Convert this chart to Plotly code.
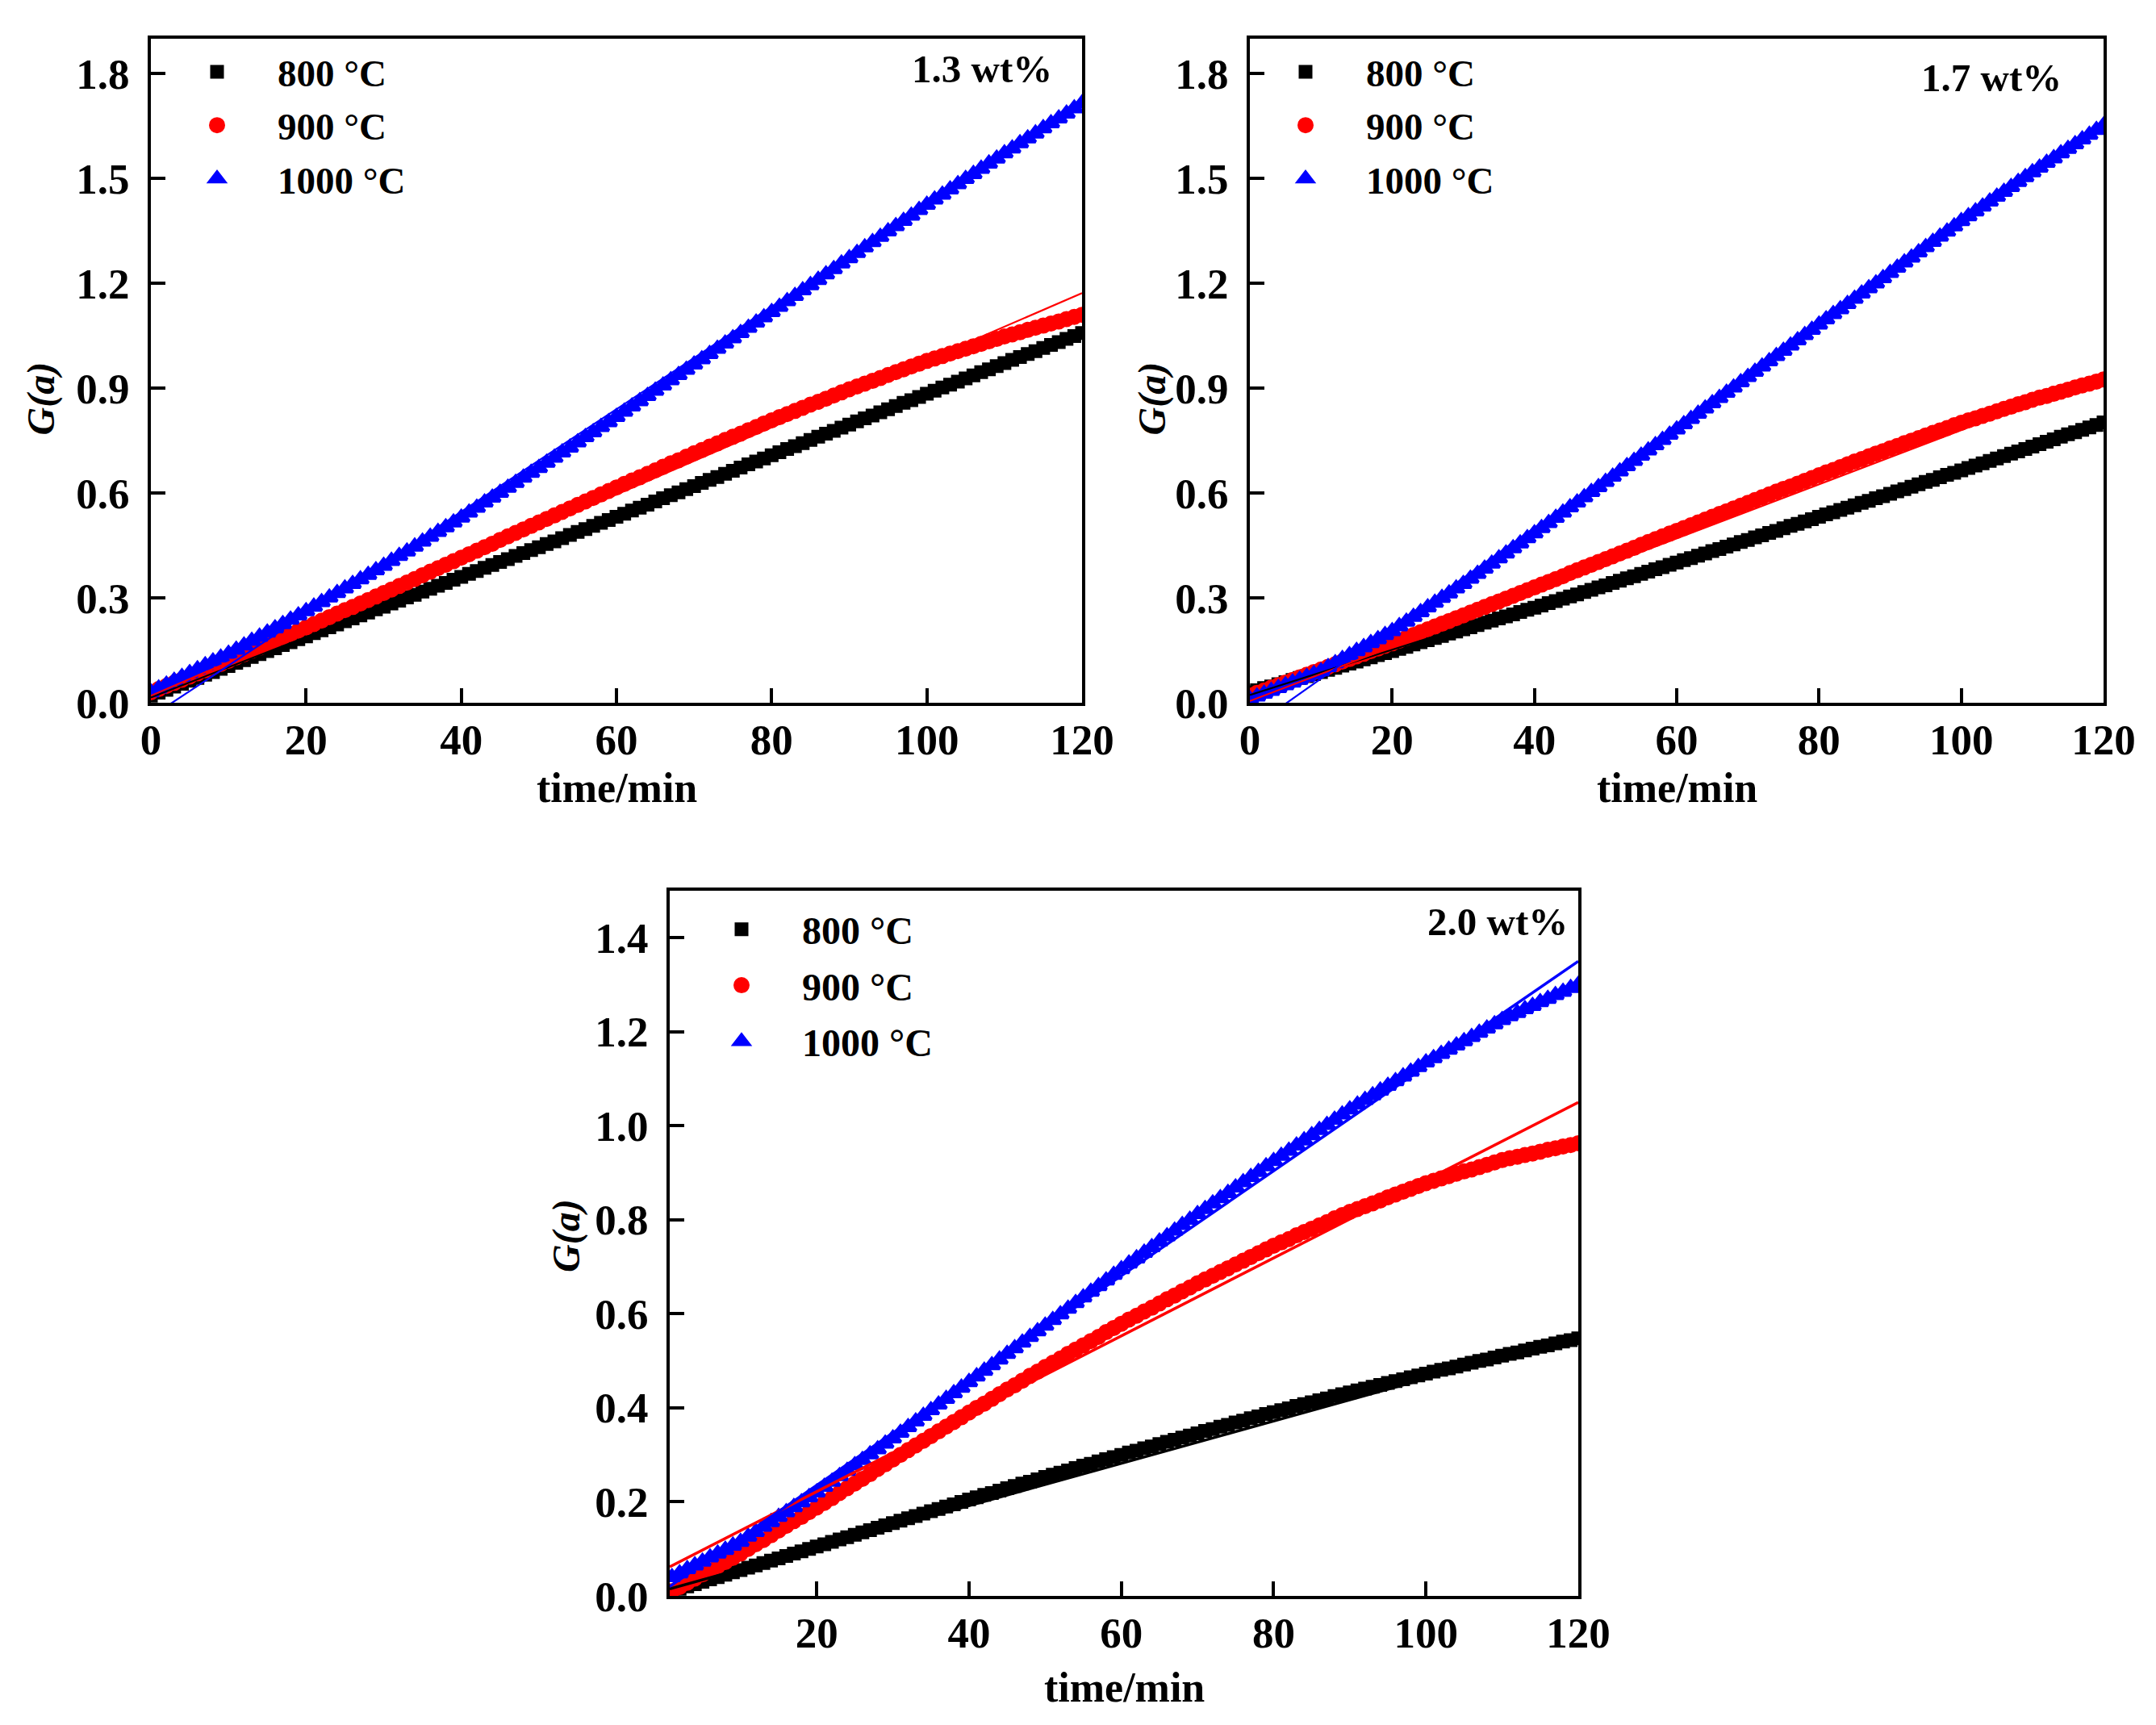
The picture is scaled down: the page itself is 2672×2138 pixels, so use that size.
import plotly.graph_objects as go

# ---------------- data ----------------
time_top = list(range(0, 121))
time_bottom = list(range(1, 121))
temps = ["800 °C", "900 °C", "1000 °C"]
panel_labels = ["1.3 wt%", "1.7 wt%", "2.0 wt%"]

g13_800 = [0.020,0.029,0.037,0.046,0.054,0.063,0.071,0.080,0.088,0.097,
           0.105,0.114,0.122,0.131,0.139,0.148,0.156,0.165,0.173,0.182,
           0.190,0.199,0.207,0.216,0.224,0.233,0.241,0.250,0.258,0.267,
           0.275,0.284,0.292,0.301,0.309,0.318,0.326,0.335,0.343,0.352,
           0.360,0.369,0.377,0.386,0.394,0.403,0.411,0.420,0.428,0.437,
           0.445,0.454,0.462,0.471,0.480,0.489,0.497,0.506,0.515,0.523,
           0.532,0.541,0.550,0.558,0.567,0.576,0.585,0.594,0.602,0.611,
           0.620,0.629,0.638,0.646,0.655,0.664,0.673,0.682,0.690,0.699,
           0.708,0.717,0.726,0.734,0.743,0.752,0.761,0.770,0.778,0.787,
           0.796,0.805,0.814,0.822,0.831,0.840,0.849,0.858,0.866,0.875,
           0.884,0.893,0.902,0.910,0.919,0.928,0.937,0.946,0.954,0.963,
           0.972,0.981,0.989,0.998,1.006,1.015,1.024,1.032,1.041,1.049,1.058]
g13_900 = [0.030,0.039,0.048,0.057,0.066,0.075,0.084,0.093,0.102,0.111,
           0.120,0.130,0.139,0.149,0.158,0.168,0.177,0.187,0.196,0.206,
           0.215,0.225,0.235,0.245,0.255,0.265,0.274,0.284,0.294,0.304,
           0.314,0.324,0.334,0.344,0.354,0.365,0.375,0.385,0.395,0.405,
           0.415,0.425,0.435,0.445,0.455,0.466,0.476,0.486,0.496,0.506,
           0.516,0.526,0.536,0.546,0.556,0.566,0.576,0.586,0.596,0.606,
           0.616,0.626,0.636,0.645,0.655,0.665,0.675,0.685,0.694,0.704,
           0.714,0.723,0.733,0.742,0.752,0.761,0.770,0.780,0.789,0.799,
           0.808,0.817,0.826,0.835,0.844,0.853,0.861,0.870,0.879,0.888,
           0.897,0.905,0.913,0.921,0.929,0.938,0.946,0.954,0.962,0.970,
           0.978,0.985,0.992,0.999,1.006,1.013,1.020,1.027,1.034,1.041,
           1.048,1.054,1.060,1.067,1.073,1.079,1.085,1.091,1.098,1.104,1.110]
g13_1000 = [0.030,0.041,0.052,0.063,0.074,0.085,0.096,0.107,0.118,0.129,
            0.140,0.152,0.164,0.177,0.189,0.201,0.213,0.225,0.238,0.250,
            0.262,0.275,0.288,0.301,0.314,0.327,0.340,0.353,0.366,0.379,
            0.392,0.406,0.420,0.433,0.447,0.461,0.475,0.489,0.502,0.516,
            0.530,0.544,0.558,0.573,0.587,0.601,0.615,0.629,0.644,0.658,
            0.672,0.687,0.701,0.716,0.730,0.745,0.760,0.774,0.789,0.803,
            0.818,0.833,0.848,0.863,0.878,0.893,0.908,0.923,0.938,0.953,
            0.968,0.983,0.998,1.013,1.028,1.043,1.058,1.073,1.088,1.103,
            1.118,1.133,1.149,1.164,1.180,1.195,1.210,1.226,1.241,1.257,
            1.272,1.287,1.303,1.318,1.333,1.349,1.364,1.379,1.394,1.410,
            1.425,1.440,1.454,1.469,1.484,1.499,1.513,1.528,1.543,1.557,
            1.572,1.586,1.601,1.615,1.629,1.644,1.658,1.672,1.686,1.701,1.715]

g17_800 = [0.030,0.036,0.042,0.047,0.053,0.059,0.065,0.071,0.076,0.082,
           0.088,0.094,0.100,0.106,0.112,0.118,0.124,0.130,0.136,0.142,
           0.148,0.154,0.160,0.167,0.173,0.179,0.185,0.191,0.198,0.204,
           0.210,0.216,0.222,0.229,0.235,0.241,0.247,0.253,0.260,0.266,
           0.272,0.278,0.285,0.291,0.298,0.304,0.310,0.317,0.323,0.330,
           0.336,0.343,0.349,0.356,0.362,0.369,0.375,0.382,0.388,0.395,
           0.401,0.408,0.414,0.421,0.427,0.434,0.440,0.447,0.453,0.460,
           0.466,0.473,0.479,0.486,0.492,0.499,0.506,0.512,0.519,0.525,
           0.532,0.539,0.545,0.552,0.558,0.565,0.572,0.578,0.585,0.591,
           0.598,0.605,0.611,0.618,0.625,0.632,0.638,0.645,0.652,0.658,
           0.665,0.672,0.679,0.685,0.692,0.699,0.706,0.713,0.719,0.726,
           0.733,0.740,0.747,0.754,0.761,0.768,0.774,0.781,0.788,0.795,0.802]
g17_900 = [0.020,0.028,0.035,0.043,0.050,0.058,0.065,0.073,0.080,0.088,
           0.095,0.103,0.110,0.118,0.125,0.133,0.140,0.148,0.155,0.163,
           0.170,0.178,0.186,0.194,0.202,0.210,0.218,0.226,0.234,0.242,
           0.250,0.258,0.266,0.274,0.282,0.290,0.298,0.306,0.314,0.322,
           0.330,0.338,0.346,0.354,0.362,0.371,0.379,0.387,0.395,0.403,
           0.411,0.419,0.427,0.435,0.443,0.452,0.460,0.468,0.476,0.484,
           0.492,0.500,0.508,0.516,0.524,0.532,0.540,0.548,0.556,0.564,
           0.572,0.580,0.588,0.596,0.604,0.612,0.619,0.627,0.635,0.643,
           0.651,0.659,0.666,0.674,0.682,0.690,0.697,0.705,0.713,0.720,
           0.728,0.735,0.743,0.750,0.757,0.765,0.772,0.779,0.786,0.794,
           0.801,0.808,0.814,0.821,0.827,0.834,0.841,0.847,0.854,0.860,
           0.867,0.873,0.878,0.884,0.890,0.896,0.902,0.908,0.913,0.919,0.925]
g17_1000 = [0.010,0.018,0.026,0.034,0.042,0.050,0.058,0.066,0.074,0.082,
            0.090,0.102,0.113,0.125,0.136,0.148,0.159,0.171,0.182,0.194,
            0.205,0.219,0.232,0.246,0.259,0.273,0.286,0.300,0.313,0.327,
            0.340,0.355,0.369,0.384,0.398,0.413,0.427,0.442,0.456,0.471,
            0.485,0.500,0.514,0.529,0.544,0.559,0.573,0.588,0.603,0.617,
            0.632,0.647,0.662,0.677,0.692,0.707,0.722,0.737,0.752,0.767,
            0.782,0.797,0.812,0.827,0.842,0.857,0.872,0.887,0.902,0.917,
            0.932,0.947,0.962,0.977,0.992,1.007,1.022,1.037,1.052,1.067,
            1.082,1.097,1.112,1.126,1.141,1.156,1.171,1.186,1.200,1.215,
            1.230,1.245,1.260,1.274,1.289,1.304,1.319,1.334,1.348,1.363,
            1.378,1.392,1.406,1.420,1.434,1.448,1.462,1.476,1.490,1.504,
            1.518,1.531,1.545,1.558,1.572,1.585,1.598,1.612,1.625,1.639,1.652]

g20_800 = [0.010,0.015,0.020,0.025,0.030,0.035,0.040,0.045,0.050,
           0.055,0.060,0.065,0.070,0.075,0.080,0.085,0.090,0.095,0.100,
           0.105,0.110,0.115,0.120,0.125,0.130,0.135,0.140,0.145,0.150,
           0.155,0.160,0.165,0.170,0.175,0.180,0.185,0.190,0.195,0.200,
           0.205,0.210,0.215,0.219,0.224,0.229,0.234,0.239,0.243,0.248,
           0.253,0.258,0.262,0.267,0.272,0.277,0.281,0.286,0.291,0.295,
           0.300,0.305,0.309,0.314,0.318,0.323,0.328,0.332,0.337,0.341,
           0.346,0.351,0.355,0.360,0.364,0.369,0.373,0.378,0.382,0.387,
           0.391,0.395,0.399,0.404,0.408,0.412,0.416,0.420,0.425,0.429,
           0.433,0.437,0.441,0.445,0.449,0.453,0.457,0.461,0.465,0.469,
           0.473,0.477,0.481,0.484,0.488,0.492,0.496,0.500,0.503,0.507,
           0.511,0.515,0.518,0.522,0.526,0.530,0.533,0.537,0.541,0.544,0.548]
g20_900 = [0.010,0.019,0.028,0.037,0.046,0.054,0.063,0.072,0.081,
           0.090,0.100,0.110,0.119,0.129,0.139,0.149,0.159,0.168,0.178,
           0.188,0.198,0.208,0.219,0.229,0.239,0.249,0.259,0.270,0.280,
           0.290,0.300,0.310,0.320,0.330,0.340,0.350,0.360,0.370,0.380,
           0.390,0.400,0.409,0.419,0.429,0.439,0.448,0.458,0.468,0.477,
           0.487,0.496,0.505,0.515,0.524,0.533,0.542,0.551,0.561,0.570,
           0.579,0.588,0.596,0.605,0.613,0.622,0.631,0.639,0.648,0.656,
           0.665,0.673,0.681,0.689,0.697,0.705,0.713,0.721,0.729,0.737,
           0.745,0.752,0.759,0.767,0.774,0.781,0.788,0.795,0.803,0.810,
           0.817,0.823,0.829,0.835,0.841,0.848,0.854,0.860,0.866,0.872,
           0.878,0.883,0.888,0.893,0.898,0.903,0.907,0.912,0.917,0.922,
           0.927,0.931,0.934,0.938,0.941,0.945,0.949,0.952,0.956,0.959,0.963]
g20_1000 = [0.040,0.048,0.057,0.065,0.073,0.082,0.090,0.098,0.107,
            0.115,0.126,0.136,0.147,0.157,0.168,0.178,0.189,0.199,0.210,
            0.220,0.232,0.243,0.255,0.266,0.278,0.289,0.301,0.312,0.324,
            0.335,0.347,0.359,0.371,0.383,0.395,0.407,0.419,0.431,0.443,
            0.455,0.467,0.479,0.491,0.503,0.515,0.527,0.539,0.551,0.563,
            0.575,0.587,0.599,0.611,0.623,0.635,0.647,0.659,0.671,0.683,
            0.695,0.707,0.718,0.730,0.742,0.754,0.765,0.777,0.789,0.800,
            0.812,0.823,0.835,0.846,0.857,0.869,0.880,0.891,0.902,0.914,
            0.925,0.936,0.947,0.958,0.969,0.980,0.991,1.002,1.013,1.024,
            1.035,1.045,1.055,1.065,1.075,1.085,1.095,1.105,1.115,1.125,
            1.135,1.144,1.153,1.162,1.171,1.180,1.189,1.198,1.207,1.216,
            1.225,1.233,1.240,1.248,1.255,1.263,1.270,1.278,1.285,1.293,1.300]

# linear fit lines (end points)
fit_x_top = [0, 120]
fit_x_bottom = [0.7, 120]
fit13_800 = [0.015, 1.055]
fit13_900 = [0.020, 1.172]
fit13_1000 = [-0.040, 1.720]
fit17_800 = [0.022, 0.800]
fit17_900 = [0.005, 0.935]
fit17_1000 = [-0.075, 1.652]
fit20_800 = [0.015, 0.552]
fit20_900 = [0.062, 1.050]
fit20_1000 = [0.020, 1.350]

# ---------------- styling ----------------
W, H = 2672, 2138
FONT = "Liberation Serif, Times New Roman, serif"
colors = ["#000000", "#ff0000", "#0000ff"]
symbols = ["square", "circle", "triangle-up"]
msizes = [13, 16, 17]
mlines = [4, 4, 4]

panels = [
    dict(x=time_top, ys=[g13_800, g13_900, g13_1000], fx=fit_x_top,
         fys=[fit13_800, fit13_900, fit13_1000], label=panel_labels[0],
         px=(187, 1341), py=(48, 871), yr=[0, 1.9], dy=0.3, xr=[0, 120],
         legend="legend", lw=2.2,
         xt_off=105, yt_dx=-136, yt_dy=35, lab_dx=-35, lab_dy=38,
         lg_dx=7, lg_dy=4, lg_font=47, lg_gap=2),
    dict(x=time_top, ys=[g17_800, g17_900, g17_1000], fx=fit_x_top,
         fys=[fit17_800, fit17_900, fit17_1000], label=panel_labels[1],
         px=(1549, 2607), py=(48, 871), yr=[0, 1.9], dy=0.3, xr=[0, 120],
         legend="legend2", lw=2.2,
         xt_off=105, yt_dx=-121, yt_dy=35, lab_dx=-50, lab_dy=48,
         lg_dx=-6, lg_dy=4, lg_font=47, lg_gap=2),
    dict(x=time_bottom, ys=[g20_800, g20_900, g20_1000], fx=fit_x_bottom,
         fys=[fit20_800, fit20_900, fit20_1000], label=panel_labels[2],
         px=(830, 1956), py=(1104, 1978), yr=[0, 1.5], dy=0.2, xr=[0.7, 120],
         legend="legend3", lw=3.5,
         xt_off=113, yt_dx=-128, yt_dy=-10, lab_dx=-11, lab_dy=38,
         lg_dx=14, lg_dy=10, lg_font=48, lg_gap=4),
]

fig = go.Figure()
layout = dict(width=W, height=H, margin=dict(l=0, r=0, t=0, b=0, autoexpand=False),
              paper_bgcolor="white", plot_bgcolor="white", showlegend=True,
              annotations=[])

for i, p in enumerate(panels):
    xa = "x" if i == 0 else f"x{i+1}"
    ya = "y" if i == 0 else f"y{i+1}"
    for k in range(3):
        fig.add_trace(go.Scatter(
            x=p["x"], y=p["ys"][k], mode="markers", name=temps[k],
            xaxis=xa, yaxis=ya, legend=p["legend"], legendgroup=f"{i}-{k}",
            marker=dict(symbol=symbols[k], size=msizes[k], color=colors[k],
                        line=dict(width=mlines[k], color=colors[k]))))
    for k in range(3):
        fig.add_trace(go.Scatter(
            x=p["fx"], y=p["fys"][k], mode="lines", showlegend=False,
            xaxis=xa, yaxis=ya, line=dict(color=colors[k], width=p["lw"])))

    x0, x1 = p["px"]
    y0, y1 = p["py"]
    xdom = [x0 / W, x1 / W]
    ydom = [1 - y1 / H, 1 - y0 / H]
    axis_common = dict(showline=True, linecolor="black", linewidth=4, mirror=True,
                       ticks="inside", ticklen=18, tickwidth=4, tickcolor="black",
                       showgrid=False, zeroline=False, automargin=False,
                       tickfont=dict(family=FONT, size=53, color="black", weight="bold"))
    xkey = "xaxis" if i == 0 else f"xaxis{i+1}"
    ykey = "yaxis" if i == 0 else f"yaxis{i+1}"
    layout[xkey] = dict(domain=xdom, range=p["xr"], tick0=0, dtick=20,
                        anchor=ya, ticklabelstandoff=-4, **axis_common)
    layout[ykey] = dict(domain=ydom, range=p["yr"], tick0=0, dtick=p["dy"],
                        tickformat=".1f", anchor=xa, ticklabelstandoff=12, **axis_common)

    layout["annotations"].append(dict(
        text="time/min", xref="paper", yref="paper",
        x=(x0 + x1) / 2 / W, y=1 - (y1 + p["xt_off"]) / H, xanchor="center", yanchor="middle",
        showarrow=False, font=dict(family=FONT, size=52, color="black", weight="bold")))
    layout["annotations"].append(dict(
        text="G(a)", xref="paper", yref="paper", textangle=-90,
        x=(x0 + p["yt_dx"]) / W, y=1 - ((y0 + y1) / 2 + p["yt_dy"]) / H,
        xanchor="center", yanchor="middle", showarrow=False,
        font=dict(family=FONT, size=48, color="black", weight="bold", style="italic")))
    layout["annotations"].append(dict(
        text=p["label"], xref="paper", yref="paper",
        x=(x1 + p["lab_dx"]) / W, y=1 - (y0 + p["lab_dy"]) / H,
        xanchor="right", yanchor="middle", showarrow=False,
        font=dict(family=FONT, size=49, color="black", weight="bold")))

    layout[p["legend"]] = dict(
        x=(x0 + p["lg_dx"]) / W, y=1 - (y0 + p["lg_dy"]) / H,
        xanchor="left", yanchor="top", bgcolor="rgba(0,0,0,0)", borderwidth=0,
        font=dict(family=FONT, size=p["lg_font"], color="black", weight="bold"),
        itemwidth=140, itemsizing="trace", tracegroupgap=p["lg_gap"])

fig.update_layout(**layout)
fig.write_html("out.html")
